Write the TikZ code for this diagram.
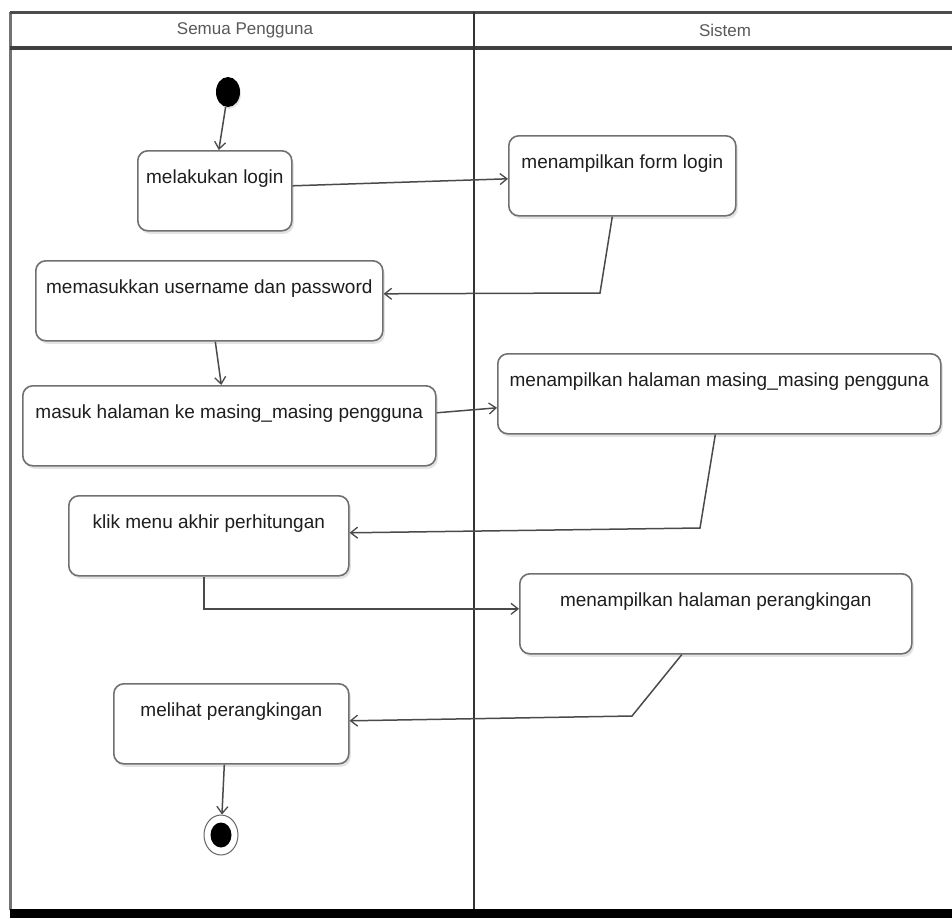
\documentclass[tikz,border=0pt]{standalone}
\usepackage{fontspec}
\setmainfont{Liberation Sans}
\usetikzlibrary{arrows.meta,shadows,shapes.geometric}
\definecolor{linec}{HTML}{4A4A4A}
\definecolor{boxc}{HTML}{707070}
\definecolor{txtc}{HTML}{1E1E1E}
\tikzset{
  act/.style={draw=boxc, line width=1.6pt, fill=white, rounded corners=10pt,
    inner sep=0pt, text height=33pt, text depth=47pt, anchor=north west,
    text=txtc, font=\fontsize{19}{22}\selectfont,
    drop shadow={shadow xshift=2pt, shadow yshift=-3pt, opacity=0.22}},
  flow/.style={draw=linec, line width=1.5pt, -{Straight Barb[length=7pt,width=11pt,line width=1.3pt]}},
  lanehead/.style={text=black!65, font=\fontsize{17}{20}\selectfont},
}
\begin{document}
\begin{tikzpicture}[x=1pt,y=-1pt]
\useasboundingbox (0,0) rectangle (952,918);
\fill[white] (0,0) rectangle (952,918);
% swimlane frame
\draw[black!55, line width=3pt] (10,12) -- (10,910);
\draw[black!70, line width=3pt] (10,12) -- (952,12);
\draw[black!75, line width=3.5pt] (10,48) -- (952,48);
\draw[black!80, line width=2pt] (474,12) -- (474,910);
\fill[black] (10,909) rectangle (952,918);
\node[lanehead] (h1) at (245,30) {Semua Pengguna};
\node[lanehead] (h2) at (725,30) {Sistem};
% start / end
\node[ellipse, fill=black, minimum width=24pt, minimum height=30pt, inner sep=0pt,
  drop shadow={shadow xshift=1pt, shadow yshift=-2pt, opacity=0.2}] (start) at (228,92) {};
\node[ellipse, draw=black!60, line width=1pt, fill=white, minimum width=34pt, minimum height=40pt, inner sep=0pt] (stop) at (221,835) {};
\node[ellipse, fill=black, minimum width=21pt, minimum height=25pt, inner sep=0pt] (stopin) at (stop) {};
% activities
\node[act, minimum width=154pt] (login) at (137,150) {melakukan login};
\node[act, minimum width=347pt] (user) at (35,260) {memasukkan username dan password};
\node[act, minimum width=413pt] (masuk) at (22,385) {masuk halaman ke masing\_masing pengguna};
\node[act, minimum width=280pt] (klik) at (68,495) {klik menu akhir perhitungan};
\node[act, minimum width=235pt] (lihat) at (113,683) {melihat perangkingan};
\node[act, minimum width=227pt] (form) at (508,135) {menampilkan form login};
\node[act, minimum width=443pt] (halm) at (497,353) {menampilkan halaman masing\_masing pengguna};
\node[act, minimum width=392pt] (perang) at (519,573) {menampilkan halaman perangkingan};
% bends
\coordinate (b1) at (600,293);
\coordinate (b2) at (700,528);
\coordinate (b3) at (632,716);
% connectors
\draw[flow] (start) -- ([xshift=4pt]login.north);
\draw[flow] ([yshift=5pt]login.east) -- ([yshift=-3pt]form.west);
\draw[flow] ([xshift=-10pt]form.south) -- (b1) -- ([yshift=7pt]user.east);
\draw[flow] ([xshift=6pt]user.south) -- ([xshift=-8pt]masuk.north);
\draw[flow] ([yshift=13pt]masuk.east) -- ([yshift=-14pt]halm.west);
\draw[flow] ([xshift=-4pt]halm.south) -- (b2) -- ([yshift=3pt]klik.east);
\draw[flow] ([xshift=-5pt]klik.south) |- ([yshift=5pt]perang.west);
\draw[flow] ([xshift=-34pt]perang.south) -- (b3) -- ([yshift=3pt]lihat.east);
\draw[flow] ([xshift=-7pt]lihat.south) -- (stop);
\end{tikzpicture}
\end{document}
